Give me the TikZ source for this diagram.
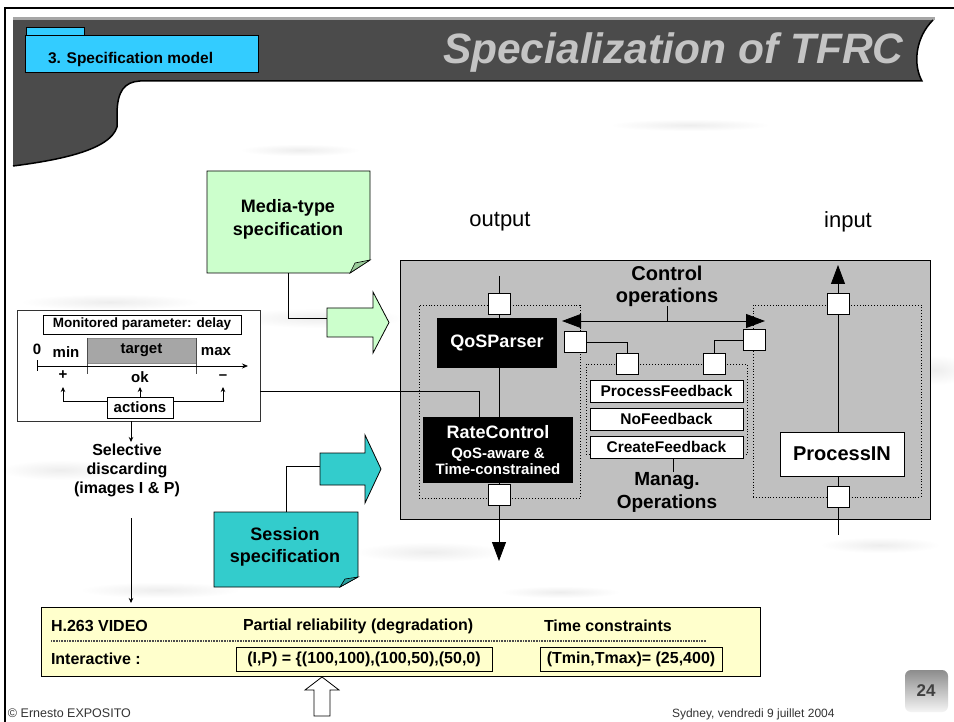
\documentclass[tikz,border=0pt]{standalone}
\usepackage{fontspec}
\setmainfont{Liberation Sans}
\usetikzlibrary{arrows.meta,calc}
\definecolor{band}{HTML}{4B4B4B}
\definecolor{tabcyan}{HTML}{33CCFF}
\definecolor{notegreen}{HTML}{CCFFCC}
\definecolor{foldgreen}{HTML}{99CC99}
\definecolor{noteteal}{HTML}{33CCCC}
\definecolor{foldteal}{HTML}{2A9F9F}
\definecolor{panel}{HTML}{C0C0C0}
\definecolor{tablefill}{HTML}{FFFFCC}
\definecolor{titlegray}{HTML}{C4C4C4}
\newcommand\setfs[2]{\fontsize{#1}{#2}\selectfont}
\begin{document}
\begin{tikzpicture}[x=1pt,y=-1pt,
  every node/.style={inner sep=0pt, outer sep=0pt},
  port/.style={draw, fill=white, line width=0.8pt, minimum width=22pt, minimum height=21pt},
  blackbox/.style={fill=black, text=white, align=center},
  whitebox/.style={draw, fill=white, line width=0.8pt},
  dotbox/.style={draw, dotted, line width=0.9pt},
  wire/.style={line width=0.8pt},
  bigtip/.style={-{Triangle[length=19pt,width=14pt]}},
  smalltip/.style={-{Stealth[length=5pt,width=4.5pt]}},
  mtext/.style={font=\bfseries\setfs{13.5}{16}},
  axtext/.style={font=\bfseries\setfs{15}{18}},
  tbl/.style={font=\bfseries\setfs{16}{19}},
  heading/.style={font=\bfseries\setfs{19}{23}, align=center},
  haze/.style={inner color=black!7, outer color=white}]
\useasboundingbox (0,0) rectangle (954,722);
\fill[white] (0,0) rectangle (954,722);

% faint cloudy backdrop
\shade[haze] (320,318) ellipse [x radius=85, y radius=10];
\shade[haze] (110,302) ellipse [x radius=90, y radius=8];
\shade[haze] (60,470) ellipse [x radius=60, y radius=10];
\shade[haze] (430,552) ellipse [x radius=75, y radius=10];
\shade[haze] (880,545) ellipse [x radius=60, y radius=8];
\shade[haze] (935,370) ellipse [x radius=35, y radius=15];
\shade[haze] (160,590) ellipse [x radius=80, y radius=8];
\shade[haze] (560,592) ellipse [x radius=60, y radius=6];
\shade[haze] (300,150) ellipse [x radius=60, y radius=6];
\shade[haze] (690,125) ellipse [x radius=80, y radius=6];

% header band with its left lobe and curled right end
\fill[band] (13,20) -- (933,20) .. controls (915,38) and (913,65) .. (922,81)
  -- (140,81) .. controls (125,82) and (117,90) .. (117,115) -- (117,127)
  .. controls (110,150) and (60,160) .. (13,166) -- cycle;
\fill[black!35] (13,17) rectangle (935,20);
\draw[line width=1.5pt] (933,20) .. controls (915,38) and (913,65) .. (922,81)
  -- (140,81) .. controls (125,82) and (117,90) .. (117,115) -- (117,127)
  .. controls (110,150) and (60,160) .. (13,166);
\draw[line width=1.8pt] (5,722) -- (5,8) -- (954,8);

% section tab and title
\node[draw, fill=tabcyan, line width=0.6pt, minimum width=58pt, minimum height=8pt] (tabtop) at (55,31.5) {};
\node[draw, fill=tabcyan, line width=0.8pt, minimum width=233pt, minimum height=37pt] (tabbox) at (141.5,53.5) {};
\node[font=\bfseries\setfs{15.5}{18}, anchor=base west] (tabtext) at (48,64) {3. Specification model};
\node[font=\bfseries\itshape\setfs{42.5}{50}, text=titlegray, anchor=base west] (title) at (443,64) {Specialization of TFRC};

% media-type note and its block arrow
\node[minimum width=163pt, minimum height=102pt] (media) at (288.5,222) {};
\filldraw[fill=notegreen, line width=0.8pt] (media.north west) -- (media.north east)
  -- ($(media.south east)+(0,-13)$) -- ($(media.south east)+(-20,0)$) -- (media.south west) -- cycle;
\filldraw[fill=foldgreen, line width=0.6pt] ($(media.south east)+(-20,0)$) -- ($(media.south east)+(-15,-10)$) -- ($(media.south east)+(0,-13)$) -- cycle;
\node[heading, font=\bfseries\setfs{18}{23}] (mediatext) at (288,219) {Media-type\\specification};
\filldraw[fill=notegreen, line width=0.8pt] (327,308) -- (373,308) -- (373,292) -- (389,322.5) -- (373,353) -- (373,337) -- (327,337) -- cycle;
\coordinate (gTail) at (327,318);
\draw[wire] (media.south) |- (gTail);

% session note and its block arrow
\node[minimum width=144pt, minimum height=75pt] (session) at (286,549.5) {};
\filldraw[fill=noteteal, line width=0.8pt] (session.north west) -- (session.north east)
  -- ($(session.south east)+(0,-10)$) -- ($(session.south east)+(-18,0)$) -- (session.south west) -- cycle;
\filldraw[fill=foldteal, line width=0.6pt] ($(session.south east)+(-18,0)$) -- ($(session.south east)+(-13,-8)$) -- ($(session.south east)+(0,-10)$) -- cycle;
\node[heading, font=\bfseries\setfs{18}{22}] (sessiontext) at (285,547) {Session\\specification};
\filldraw[fill=noteteal, line width=0.8pt] (320,453) -- (365,453) -- (365,435) -- (381,469) -- (365,503) -- (365,485) -- (320,485) -- cycle;
\coordinate (tTail) at (320,466);
\draw[wire] (session.north) |- (tTail);

% protocol engine panel
\node[draw, fill=panel, line width=0.9pt, minimum width=530pt, minimum height=259pt] (engine) at (665,389.5) {};
\node[font=\setfs{22}{26}] (outlbl) at (500,222) {output};
\node[font=\setfs{22}{26}] (inlbl) at (848,222) {input};

\node[dotbox, minimum width=161pt, minimum height=193pt] (qosgrp) at (499.5,401.5) {};
\node[dotbox, minimum width=161pt, minimum height=90pt] (mangrp) at (666.5,409) {};
\node[dotbox, minimum width=168pt, minimum height=192pt] (ingrp) at (837,401) {};

\node[blackbox, minimum width=120pt, minimum height=50pt, font=\bfseries\setfs{18}{22}] (qos) at (497,343) {QoSParser};
\node[blackbox, minimum width=150pt, minimum height=66pt, font=\bfseries\setfs{15}{16}] (rate) at (498,450)
  {\setfs{18}{20}RateControl\\[4pt]QoS-aware \&\\Time-constrained};

\node[whitebox, minimum width=153pt, minimum height=22pt, font=\bfseries\setfs{15.5}{18}] (pfb) at (666.5,391) {ProcessFeedback};
\node[whitebox, minimum width=153pt, minimum height=22pt, font=\bfseries\setfs{15.5}{18}] (nfb) at (666.5,419) {NoFeedback};
\node[whitebox, minimum width=153pt, minimum height=22pt, font=\bfseries\setfs{15.5}{18}] (cfb) at (666.5,447) {CreateFeedback};
\node[whitebox, minimum width=124pt, minimum height=44pt, font=\bfseries\setfs{20}{24}] (procin) at (842,454) {ProcessIN};

\node[heading, font=\bfseries\setfs{20}{22}] (ctrl) at (667,286) {Control\\operations};
\node[heading] (manag) at (667,492) {Manag.\\Operations};

\node[port] (pTopL) at (499,304) {};
\node[port] (pBotL) at (499,495) {};
\node[port] (pRightL) at (575,342) {};
\node[port] (pM1) at (627,364) {};
\node[port] (pM2) at (714,364) {};
\node[port] (pLeftR) at (754,340) {};
\node[port] (pTopR) at (838,304) {};
\node[port] (pBotR) at (838,497) {};

\coordinate (ctlL) at (562,321);
\coordinate (ctlR) at (765,321);
\coordinate (ctlM) at (667,321);
\draw[wire, {Triangle[length=19pt,width=14pt]}-{Triangle[length=19pt,width=14pt]}] (ctlL) -- (ctlR);
\draw[wire] (ctlM) -- (ctrl.south);

\coordinate (outTop) at (499,276);
\coordinate (outTip) at (499,561);
\draw[wire] (outTop) -- (pTopL.north);
\draw[wire] (pTopL.south) -- (qos.north -| pTopL);
\draw[wire] (qos.south -| pTopL) -- (rate.north -| pTopL);
\draw[wire] (rate.south -| pBotL) -- (pBotL.north);
\draw[wire, bigtip] (pBotL.south) -- (outTip);
\draw[wire] (pRightL.east) -| (pM1.north);
\draw[wire] (pM2.north) |- (pLeftR.west);
\coordinate (inTip) at (838,265);
\coordinate (inFeed) at (838,535);
\draw[wire, bigtip] (pTopR.north) -- (inTip);
\draw[wire] (pTopR.south) -- (procin.north -| pTopR);
\draw[wire] (procin.south -| pBotR) -- (pBotR.north);
\draw[wire] (pBotR.south) -- (inFeed);
\coordinate (mgTop) at (673,472);
\draw[wire] (cfb.south -| mgTop) -- (mgTop);

% delay monitoring
\node[draw=black!80, fill=white, line width=0.8pt, minimum width=243pt, minimum height=111pt] (mon) at (138.5,365.5) {};
\node[whitebox, minimum width=198pt, minimum height=19pt, mtext] (monpar) at (142,324.5) {Monitored parameter: delay};
\node[fill=black!35, draw=black!45, minimum width=109pt, minimum height=25pt, axtext] (target) at (141.5,350.5) {target};
\draw[wire, black!70] (target.north west) -- ++(0,36);
\draw[wire, black!70] (target.north east) -- ++(0,36);
\node[axtext] (zero) at (37,349) {0};
\node[axtext] (minl) at (66,352) {min};
\node[axtext] (maxl) at (216,352) {max};
\node[axtext] (plus) at (63,375) {+};
\node[axtext] (okl) at (140,377) {ok};
\node[axtext] (minus) at (223,377) {\textendash};
\coordinate (ax0) at (37,366);
\coordinate (ax1) at (248,366);
\draw[wire, -{Stealth[length=6pt,width=5pt]}] (ax0) -- (ax1);
\draw[wire] (37,360) -- (37,371);
\node[whitebox, minimum width=66pt, minimum height=21pt, font=\bfseries\setfs{15}{18}] (acts) at (140,407.5) {actions};
\coordinate (plusTip) at (63,387);
\coordinate (okTip) at (140,387);
\coordinate (minusTip) at (223,387);
\draw[wire, smalltip] ([yshift=6.5pt]acts.west) -| (plusTip);
\draw[wire, smalltip] ([yshift=6.5pt]acts.east) -| (minusTip);
\draw[wire, smalltip] (acts.north) -- (okTip);
\coordinate (selTip) at (131,442);
\draw[wire, smalltip] (mon.south -| selTip) -- (selTip);
\node[font=\bfseries\setfs{16}{19}, align=center] (sel) at (127,470) {Selective\\discarding\\(images I \& P)};
\coordinate (mtap) at (479,391);
\draw[wire] (mon.east |- mtap) -- (mtap) -- (mtap |- rate.north);

% media requirements table
\node[draw, fill=tablefill, line width=0.8pt, minimum width=719pt, minimum height=69pt] (tab) at (400.5,641.5) {};
\coordinate (tabTip) at (131,603);
\draw[wire, smalltip] ($(sel.south -| selTip)+(0,22)$) -- (tabTip);
\node[tbl, anchor=west] (h1) at (51,626) {H.263 VIDEO};
\node[tbl, anchor=west] (h2) at (243,626) {Partial reliability (degradation)};
\node[tbl, anchor=west] (h3) at (544,626) {Time constraints};
\draw[black!70, line width=1.2pt, dash pattern=on 1pt off 0.6pt] (51,641) -- (706,641);
\node[tbl, anchor=west] (r1) at (51,659) {Interactive :};
\node[draw, line width=0.9pt, minimum width=256pt, minimum height=24pt, tbl] (ipbox) at (364,659) {(I,P) = \{(100,100),(100,50),(50,0)};
\node[draw, line width=0.9pt, minimum width=182pt, minimum height=24pt, tbl] (tmbox) at (631,659) {(Tmin,Tmax)= (25,400)};
\filldraw[fill=white, line width=0.8pt] (314,716) -- (314,690) -- (305,690) -- (322,677) -- (339,690) -- (330,690) -- (330,716) -- cycle;

% footer
\node[font=\setfs{12.5}{15}, text=black!80, anchor=base west] (author) at (8,717) {\textcopyright\ Ernesto EXPOSITO};
\node[font=\setfs{12}{14}, text=black!80, anchor=base west] (place) at (672,717) {Sydney, vendredi 9 juillet 2004};
\shade[top color=black!45, bottom color=black!4, rounded corners=6pt] (905,670) rectangle (948,712);
\node[font=\bfseries\setfs{17}{20}, text=black!75] (pnum) at (926,691) {24};
\end{tikzpicture}
\end{document}
